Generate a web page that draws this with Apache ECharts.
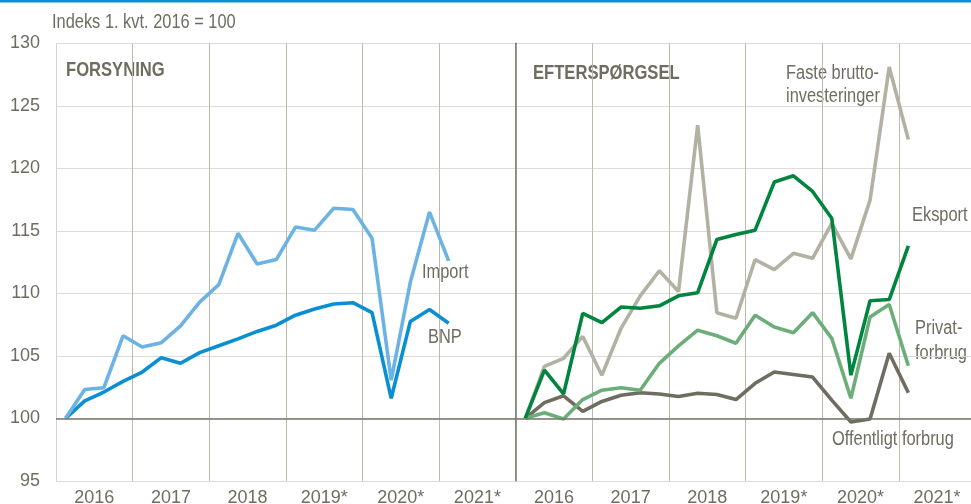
<!DOCTYPE html>
<html>
<head>
<meta charset="utf-8">
<script src="https://cdn.jsdelivr.net/npm/echarts@6/dist/echarts.min.js"></script>
<style>
  html, body { margin: 0; padding: 0; background: #fff; }
  #chart { width: 971px; height: 504px; }
</style>
</head>
<body>
<div id="chart"></div>
<script>
// tick labels
const yearLabels = ['2016', '2017', '2018', '2019*', '2020*', '2021*'];
const quarterNames = ['1. kvt.', '2. kvt.', '3. kvt.', '4. kvt.'];
const baseValue = 100;

// FORSYNING, index 1. kvt. 2016 = 100
const importData = [100, 102.3, 102.45, 106.6, 105.7, 106.05, 107.4, 109.3, 110.7, 114.8, 112.35,
  112.7, 115.3, 115.05, 116.8, 116.7, 114.4, 103.05, 110.9, 116.5, 112.6];
const bnpData = [100, 101.4, 102.1, 102.95, 103.7, 104.85, 104.4, 105.25, 105.8, 106.35, 106.95,
  107.45, 108.25, 108.75, 109.15, 109.25, 108.45, 101.6, 107.75, 108.7, 107.6];

// EFTERSPØRGSEL
const fasteData = [100, 104.15, 104.8, 106.55, 103.45, 107.2, 109.8, 111.8, 110.15, 123.45, 108.45,
  108.0, 112.7, 111.9, 113.2, 112.8, 115.6, 112.75, 117.45, 128.1, 122.3];
const eksportData = [100, 103.85, 101.95, 108.4, 107.65, 108.9, 108.8, 109.0, 109.8, 110.05, 114.3,
  114.7, 115.05, 118.9, 119.4, 118.15, 116.0, 103.45, 109.4, 109.5, 113.8];
const privatData = [100, 100.45, 99.95, 101.5, 102.25, 102.45, 102.25, 104.4, 105.8, 107.05, 106.6,
  106.0, 108.25, 107.3, 106.85, 108.45, 106.4, 101.6, 108.1, 109.1, 104.2];
const offentligData = [100, 101.25, 101.8, 100.55, 101.35, 101.85, 102.05, 101.95, 101.75, 102.0, 101.9,
  101.5, 102.8, 103.7, 103.5, 103.3, 101.45, 99.7, 99.95, 105.2, 102.05];

const quarterLabels = [];
yearLabels.forEach(y => quarterNames.forEach(q => quarterLabels.push(q + ' ' + y)));

const FONT = '"Liberation Sans", Arial, sans-serif';
const TXT = '#6e6d60';
const NARROW = 0.82; // the original type is a narrow sans

const chart = echarts.init(document.getElementById('chart'), null, { renderer: 'canvas' });

const quarterAxis = (gridIndex) => ({
  type: 'category',
  gridIndex,
  data: quarterLabels,
  boundaryGap: true,
  axisLine: { show: false },
  axisTick: { show: false },
  axisLabel: { show: false },
  splitLine: {
    show: true,
    interval: (i) => i > 0 && i % 4 === 0,
    lineStyle: { color: '#bdbaad', width: 1 }
  }
});

const yearAxis = (gridIndex) => ({
  type: 'category',
  gridIndex,
  data: yearLabels,
  position: 'bottom',
  boundaryGap: true,
  axisLine: { show: false },
  axisTick: { show: false },
  splitLine: { show: false },
  axisLabel: { color: TXT, fontSize: 18, fontFamily: FONT, margin: 8, interval: 0 }
});

const valueAxis = (gridIndex, showLabels, lineColor, lineWidth) => ({
  type: 'value',
  gridIndex,
  min: 95,
  max: 130,
  interval: 5,
  axisLine: { show: true, lineStyle: { color: lineColor, width: lineWidth } },
  axisTick: { show: false },
  axisLabel: { show: showLabels, color: TXT, fontSize: 18, fontFamily: FONT, margin: 16 },
  splitLine: { lineStyle: { color: '#dcdcdc', width: 1 } }
});

const baseLine = {
  silent: true,
  symbol: 'none',
  label: { show: false },
  lineStyle: { color: '#77766a', width: 1.5, type: 'solid' },
  data: [{ yAxis: baseValue }]
};

const line = (name, data, color, xi, yi, extra) => Object.assign({
  name,
  type: 'line',
  data,
  xAxisIndex: xi,
  yAxisIndex: yi,
  symbol: 'none',
  lineStyle: { width: 3.6, color },
  itemStyle: { color }
}, extra || {});

const label = (text, x, y, opts, scaleX) => ({
  type: 'text',
  x, y,
  scaleX: scaleX || NARROW,
  style: Object.assign({
    text,
    fill: TXT,
    fontSize: 20,
    fontFamily: FONT,
    verticalAlign: 'middle'
  }, opts || {})
});

chart.setOption({
  animation: false,
  grid: [
    { left: 56, top: 43.3, width: 459.7, height: 437.5, outerBoundsMode: 'none' },
    { left: 515.7, top: 43.3, width: 459.7, height: 437.5, outerBoundsMode: 'none' }
  ],
  xAxis: [quarterAxis(0), yearAxis(0), quarterAxis(1), yearAxis(1)],
  yAxis: [
    valueAxis(0, true, '#d4d4d4', 1),
    valueAxis(1, false, '#77766a', 1.5)
  ],
  series: [
    line('BNP', bnpData, '#0a8fd2', 0, 0, { markLine: baseLine }),
    line('Import', importData, '#6cb3e3', 0, 0),
    line('Offentligt forbrug', offentligData, '#6e6d5f', 2, 1, { markLine: baseLine }),
    line('Faste bruttoinvesteringer', fasteData, '#b3b1a2', 2, 1),
    line('Privatforbrug', privatData, '#6cae79', 2, 1),
    line('Eksport', eksportData, '#00853f', 2, 1)
  ],
  graphic: [
    { type: 'rect', shape: { x: 0, y: 0, width: 971, height: 2.5 }, style: { fill: '#0a8fd2' } },
    label('Indeks 1. kvt. 2016 = 100', 52, 22),
    label('FORSYNING', 66, 70, { fontWeight: 'bold', fontSize: 20 }, 0.83),
    label('EFTERSPØRGSEL', 533, 73, { fontWeight: 'bold', fontSize: 20 }, 0.83),
    label('Import', 422, 272),
    label('BNP', 428, 337),
    label('Faste brutto-\ninvesteringer', 786, 85, { lineHeight: 23.5 }),
    label('Eksport', 912, 215),
    label('Privat-\nforbrug', 915, 341, { lineHeight: 25 }),
    label('Offentligt forbrug', 832, 439)
  ]
});
</script>
</body>
</html>
